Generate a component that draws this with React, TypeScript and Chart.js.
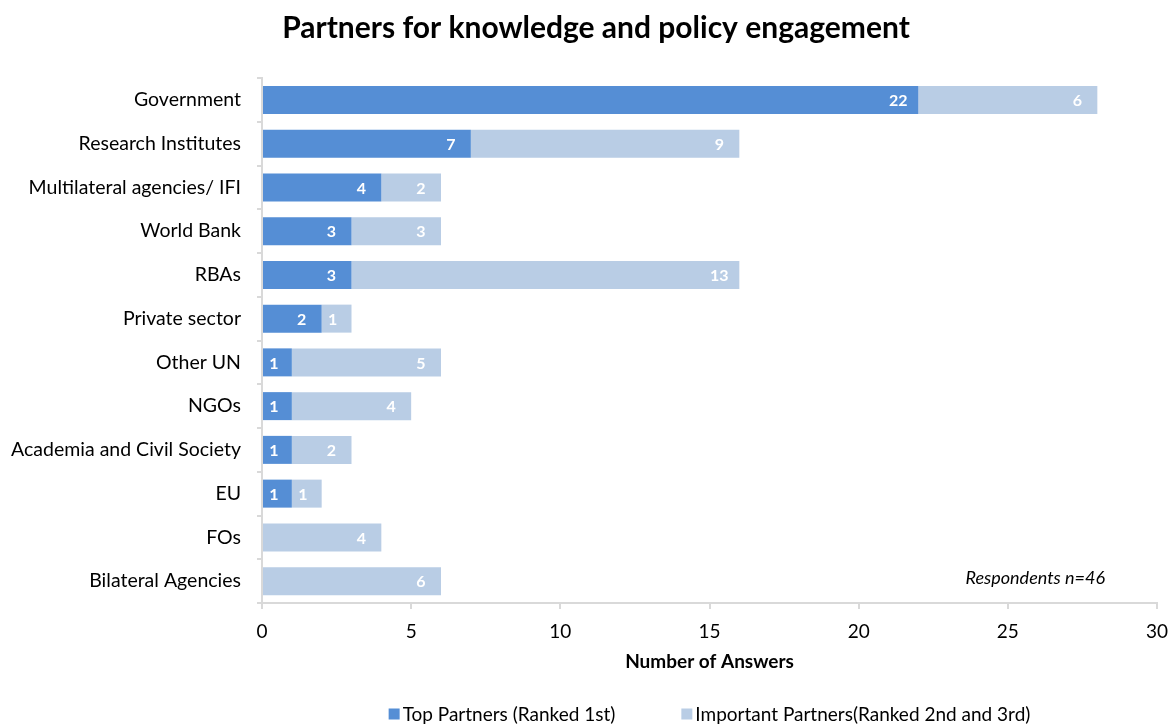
import React, { useEffect, useRef } from "react";
import { Chart, registerables } from "chart.js";

Chart.register(...registerables);

const categories = [
  "Government",
  "Research Institutes",
  "Multilateral agencies/ IFI",
  "World Bank",
  "RBAs",
  "Private sector",
  "Other UN",
  "NGOs",
  "Academia and Civil Society",
  "EU",
  "FOs",
  "Bilateral Agencies",
];
const topPartners = [22, 7, 4, 3, 3, 2, 1, 1, 1, 1, 0, 0];
const importantPartners = [6, 9, 2, 3, 13, 1, 5, 4, 2, 1, 4, 6];
const seriesNames = ["Top Partners (Ranked 1st)", "Important Partners(Ranked 2nd and 3rd)"];
const seriesColors = ["#558ED5", "#B9CDE5"];
const xMin = 0;
const xMax = 30;
const xStep = 5;
const titleText = "Partners for knowledge and policy engagement";
const xAxisTitle = "Number of Answers";
const noteText = "Respondents n=46";

const FONT = "Lato, 'Open Sans', sans-serif";

const labelsPlugin = {
  id: "segLabels",
  afterDatasetsDraw(chart: any) {
    const ctx = chart.ctx;
    ctx.save();
    ctx.fillStyle = "#FFFFFF";
    ctx.font = `bold 16px ${FONT}`;
    ctx.textAlign = "center";
    ctx.textBaseline = "middle";
    chart.data.datasets.forEach((ds: any, di: number) => {
      const meta = chart.getDatasetMeta(di);
      meta.data.forEach((el: any, i: number) => {
        const v = ds.data[i];
        if (!v) return;
        const end = Math.max(el.x, el.base);
        const start = Math.min(el.x, el.base);
        const cx = Math.max(end - 20, start + 11);
        ctx.fillText(String(v), cx, el.y + 1);
      });
    });
    ctx.restore();
  },
};

const decorPlugin = {
  id: "decor",
  afterDraw(chart: any) {
    const ctx = chart.ctx;
    const area = chart.chartArea;
    ctx.save();
    // title
    ctx.fillStyle = "#000000";
    ctx.font = `bold 30px ${FONT}`;
    ctx.textAlign = "center";
    ctx.textBaseline = "middle";
    ctx.fillText(titleText, chart.width / 2 + 11, 28);
    // note
    ctx.font = `italic 18px ${FONT}`;
    ctx.textAlign = "right";
    ctx.fillText(noteText, area.right - 52, area.bottom - 25);
    // legend
    ctx.font = `19px ${FONT}`;
    ctx.textAlign = "left";
    const box = 11;
    const gap = 3;
    const spacing = 66;
    const widths = seriesNames.map((n) => ctx.measureText(n).width);
    const total = widths.reduce((a, w) => a + box + gap + w, 0) + spacing * (widths.length - 1);
    let x = (area.left + area.right) / 2 - total / 2;
    const y = 714;
    seriesNames.forEach((n, i) => {
      ctx.fillStyle = seriesColors[i];
      ctx.fillRect(x, y - box / 2, box, box);
      ctx.fillStyle = "#000000";
      ctx.fillText(n, x + box + gap, y + 1);
      x += box + gap + widths[i] + spacing;
    });
    ctx.restore();
  },
};

export default function App() {
  const ref = useRef<HTMLCanvasElement | null>(null);
  useEffect(() => {
    if (!ref.current) return;
    const chart = new Chart(ref.current, {
      type: "bar",
      data: {
        labels: categories,
        datasets: [
          {
            label: seriesNames[0],
            data: topPartners,
            backgroundColor: seriesColors[0],
            categoryPercentage: 1,
            barPercentage: 0.64,
          },
          {
            label: seriesNames[1],
            data: importantPartners,
            backgroundColor: seriesColors[1],
            categoryPercentage: 1,
            barPercentage: 0.64,
          },
        ],
      },
      options: {
        indexAxis: "y",
        responsive: false,
        animation: false,
        layout: { padding: { top: 78, right: 13, bottom: 51, left: 0 } },
        plugins: {
          legend: { display: false },
          title: { display: false },
          tooltip: { enabled: false },
        },
        scales: {
          x: {
            stacked: true,
            min: xMin,
            max: xMax,
            ticks: { stepSize: xStep, color: "#000000", font: { family: FONT, size: 19 }, padding: 11 },
            grid: { drawOnChartArea: false, drawTicks: true, tickLength: 6, color: "#D9D9D9", lineWidth: 2 },
            border: { color: "#D9D9D9", width: 2 },
            title: {
              display: true,
              text: xAxisTitle,
              color: "#000000",
              font: { family: FONT, size: 19, weight: "bold" },
              padding: { top: 0, bottom: 0 },
            },
            afterFit: (scale: any) => {
              scale.height = 70;
              scale.paddingRight = 0;
              scale.paddingLeft = 0;
            },
          },
          y: {
            stacked: true,
            ticks: { color: "#000000", font: { family: FONT, size: 19.5 }, padding: 16 },
            grid: { drawOnChartArea: false, drawTicks: true, tickLength: 5, color: "#D9D9D9", lineWidth: 2, offset: true },
            border: { color: "#D9D9D9", width: 2 },
            afterFit: (scale: any) => {
              scale.width = 262;
              scale.paddingTop = 0;
              scale.paddingBottom = 0;
            },
          },
        },
      },
      plugins: [labelsPlugin, decorPlugin],
    } as any);
    return () => chart.destroy();
  }, []);
  return (
    <div style={{ position: "absolute", left: 0, top: 0, width: 1170, height: 724, background: "#FFFFFF" }}>
      <canvas ref={ref} width={1170} height={724} style={{ display: "block" }} />
    </div>
  );
}
